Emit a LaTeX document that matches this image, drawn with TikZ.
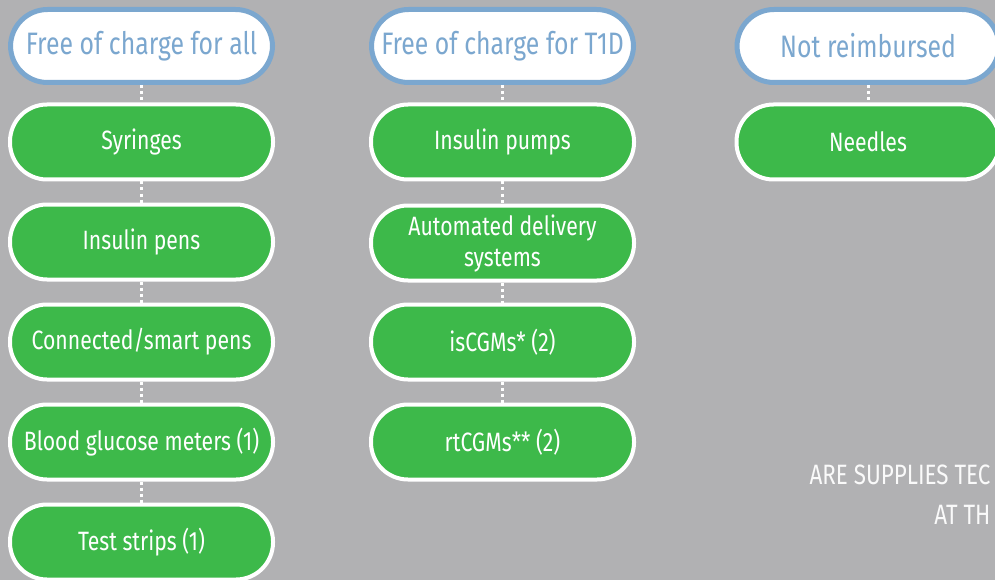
\documentclass[tikz,border=0pt]{standalone}
\usepackage{fontspec}
\setmainfont{Fira Sans}[FakeStretch=0.8]
\usetikzlibrary{positioning}

\definecolor{bggray}{RGB}{177,177,179}
\definecolor{boxgreen}{RGB}{61,185,74}
\definecolor{headblue}{RGB}{123,167,207}

\tikzset{
  head/.style={draw=headblue, line width=5pt, fill=white, text=headblue,
    rounded corners=37pt, minimum width=262pt, minimum height=73pt,
    font=\fontsize{31}{34}\selectfont},
  item/.style={draw=white, line width=4pt, fill=boxgreen, text=white,
    rounded corners=37pt, minimum width=263pt, minimum height=75pt,
    align=center, font=\fontsize{26.5}{30}\selectfont},
  conn/.style={draw=white, line width=3pt, dash pattern=on 3pt off 3pt},
  note/.style={text=white!94!bggray, font=\fontsize{28}{30}\selectfont}
}

\begin{document}
\begin{tikzpicture}[x=1pt, y=-1pt]
  % fond
  \useasboundingbox (0,0) rectangle (995,580);
  \fill[bggray] (0,0) rectangle (995,580);
  \clip (0,0) rectangle (995,580);

  % colonne 1 : gratuit pour tous
  \node[head] (all) at (141.5,46) {Free of charge for all};
  \node[item] (syr) at (141.5,142) {Syringes};
  \node[item] (pen) at (141.5,242) {Insulin pens};
  \node[item] (smart) at (141.5,342) {Connected/smart pens};
  \node[item] (bgm) at (141.5,442) {Blood glucose meters (1)};
  \node[item] (strip) at (141.5,542) {Test strips (1)};

  % colonne 2 : gratuit pour T1D
  \node[head] (tone) at (502.5,46) {Free of charge for T1D};
  \node[item] (pump) at (502.5,142) {Insulin pumps};
  \node[item] (aid) at (502.5,243) {Automated delivery\\[1pt]systems};
  \node[item] (iscgm) at (502.5,342) {isCGMs* (2)};
  \node[item] (rtcgm) at (502.5,442) {rtCGMs** (2)};

  % colonne 3 : non rembourse
  \node[head] (none) at (868,46) {Not reimbursed};
  \node[item] (needle) at (868,142) {Needles};

  % liens pointilles
  \draw[conn] (all) -- (syr);
  \draw[conn] (syr) -- (pen);
  \draw[conn] (pen) -- (smart);
  \draw[conn] (smart) -- (bgm);
  \draw[conn] (bgm) -- (strip);
  \draw[conn] (tone) -- (pump);
  \draw[conn] (pump) -- (aid);
  \draw[conn] (aid) -- (iscgm);
  \draw[conn] (iscgm) -- (rtcgm);
  \draw[conn] (none) -- (needle);

  % texte coupe a droite
  \node[note, anchor=base east] (q1) at (994,484) {ARE SUPPLIES TEC};
  \node[note, anchor=base east] (q2) at (994,524) {AT TH};
\end{tikzpicture}
\end{document}
